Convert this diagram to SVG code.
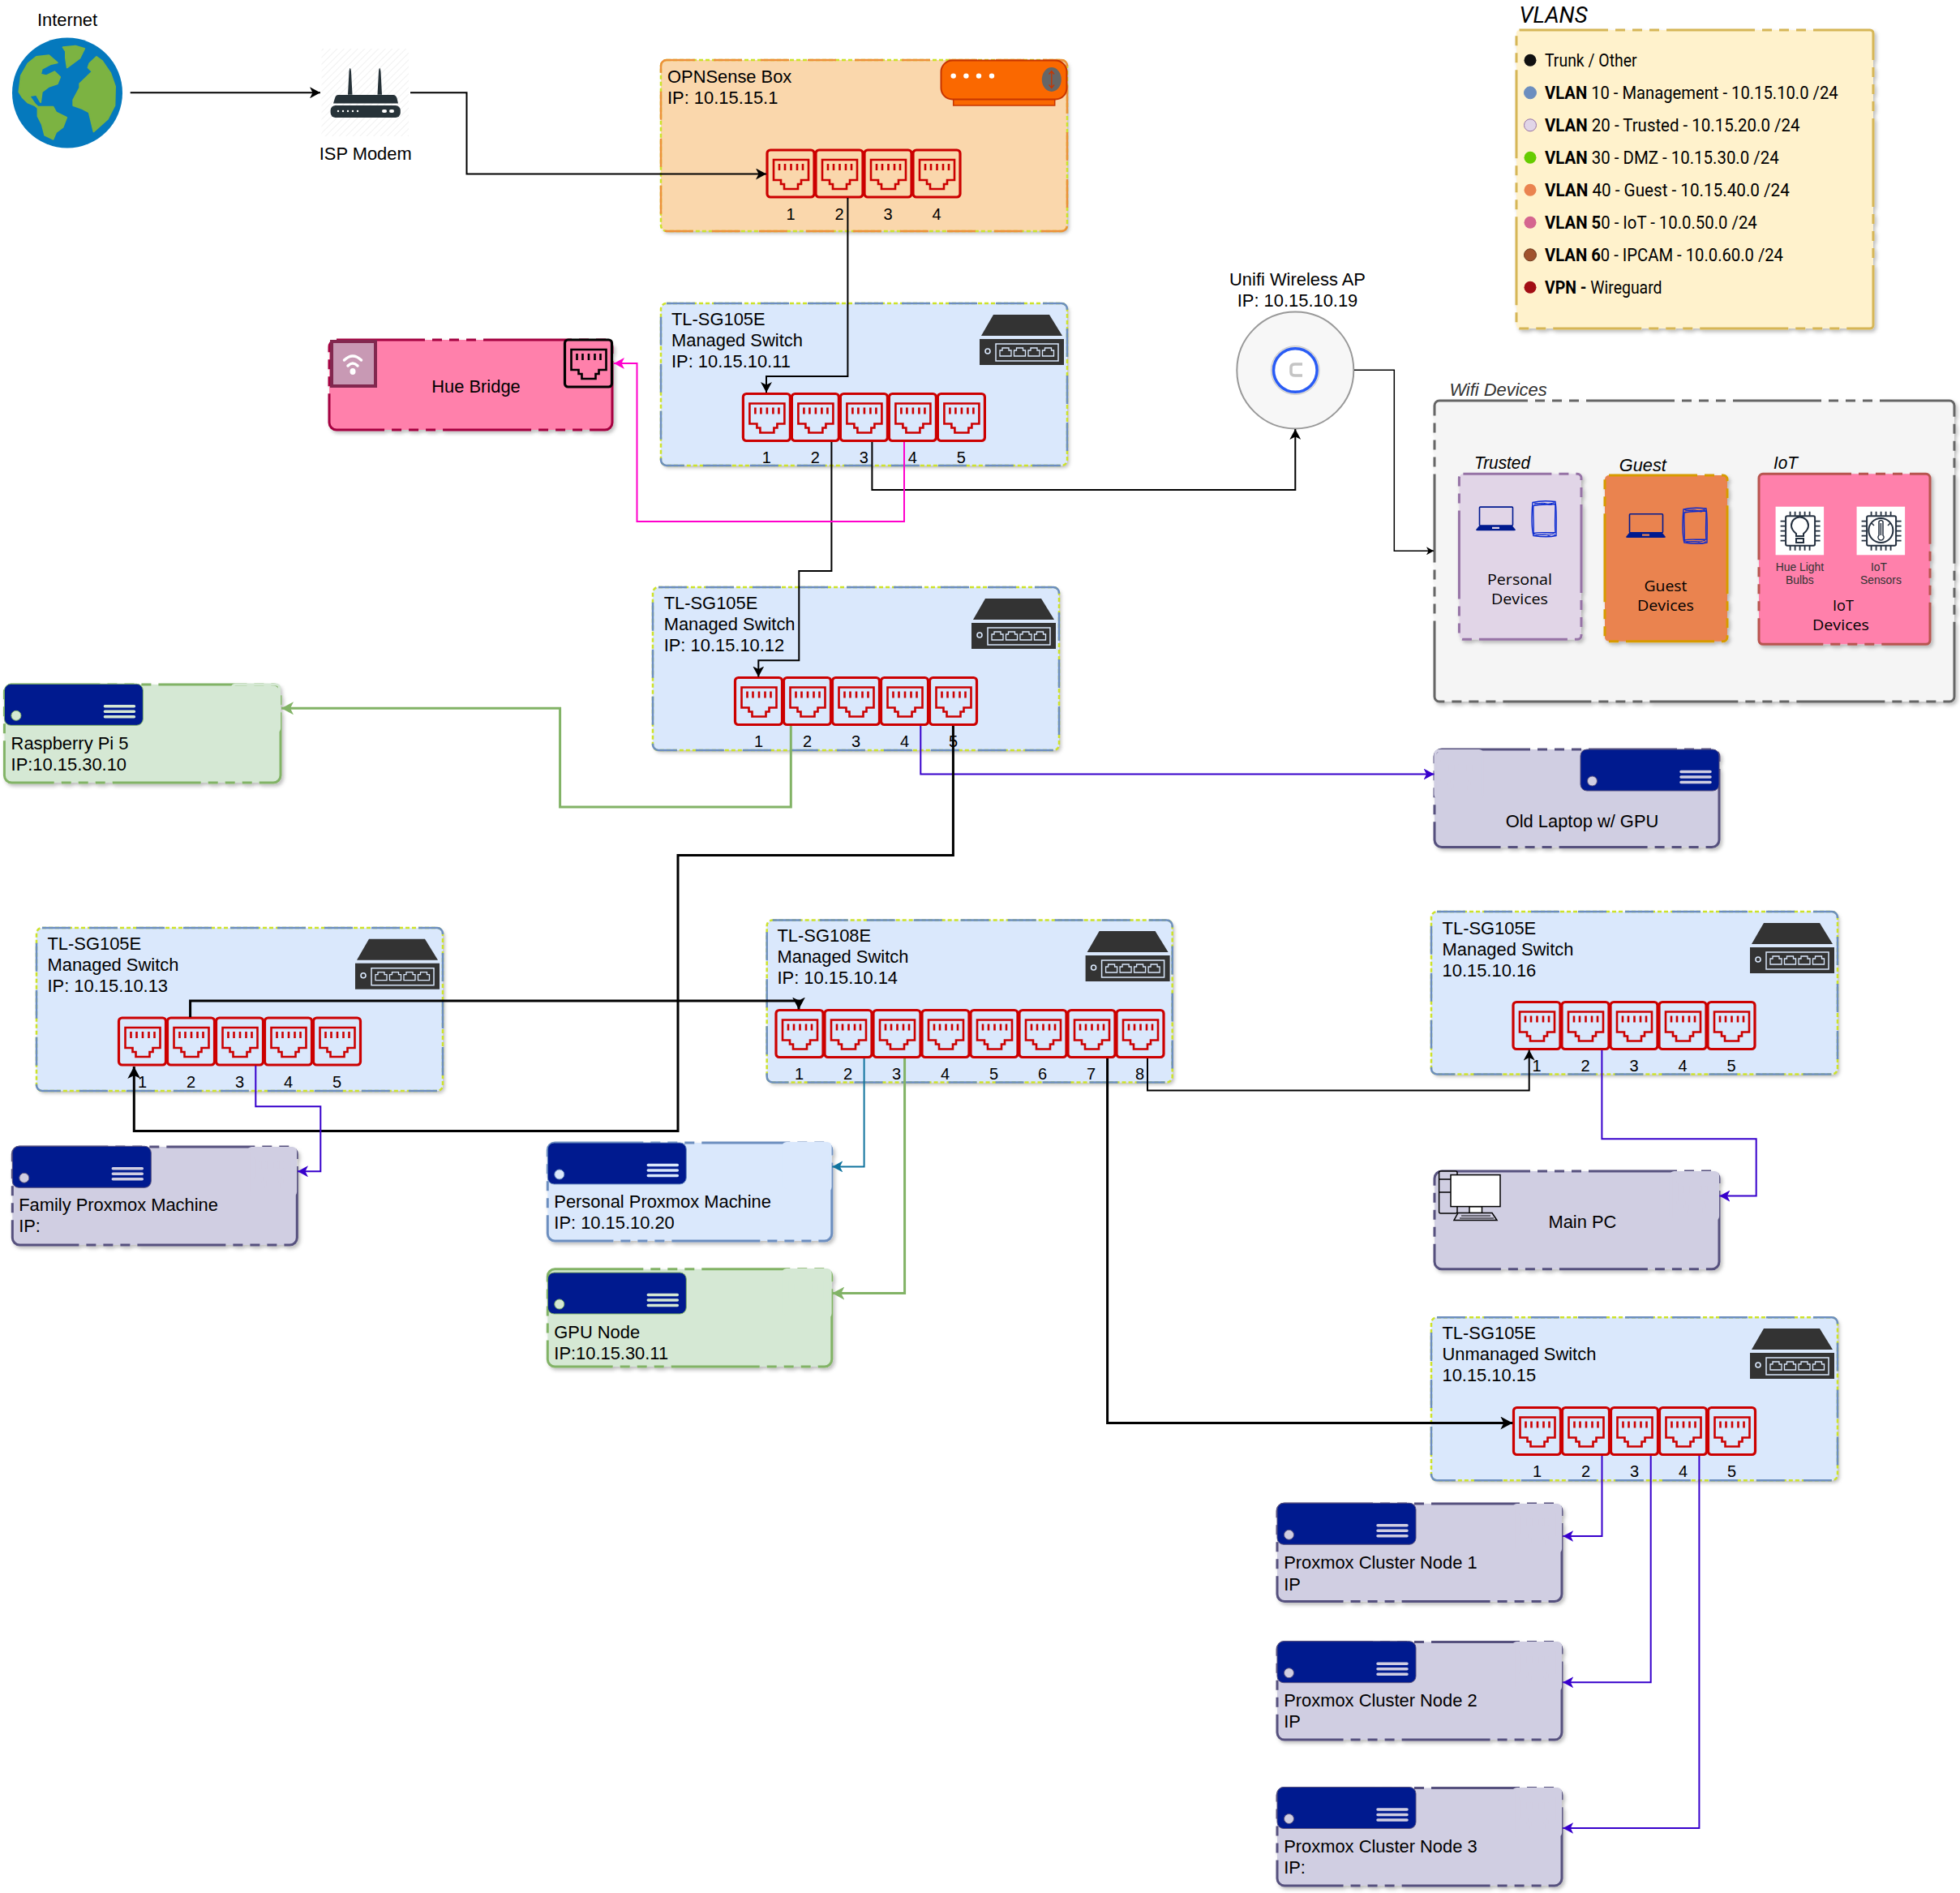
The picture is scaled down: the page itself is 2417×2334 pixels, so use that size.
<svg xmlns="http://www.w3.org/2000/svg" width="2417" height="2334" viewBox="0 0 2417 2334">
<style>
text{font-family:"Liberation Sans",Arial,sans-serif;font-size:21.9px;fill:#000}
.m{text-anchor:middle}
.n{font-size:20px;text-anchor:middle}
.i{font-style:italic}
.v{font-family:Roboto,"Liberation Sans",sans-serif}
.h{font-family:"Open Sans","Liberation Sans",sans-serif;font-size:19px;font-weight:400;text-anchor:middle}
.s{font-size:13.9px;text-anchor:middle;fill:#333}
.box{stroke-width:3;stroke-dasharray:109 9 12 9 12 9 12 9;filter:url(#sh)}
.y{fill:none;stroke:#cde22b;stroke-width:2.500;stroke-dasharray:5 3}
.d{fill:none;stroke-width:2.500;stroke-dasharray:35 23}
.c{fill:none;stroke-linejoin:miter}
.k{stroke:#000;stroke-width:2;marker-end:url(#ak)}
.K{stroke:#000;stroke-width:3;marker-end:url(#aK)}
.t{stroke:#000;stroke-width:1.500;marker-end:url(#at)}
.p{stroke:#3700cc;stroke-width:2;marker-end:url(#ap)}
.g{stroke:#82b366;stroke-width:3;marker-end:url(#ag)}
.e{stroke:#10739e;stroke-width:2;marker-end:url(#ae)}
.f{stroke:#ff00cc;stroke-width:2;marker-end:url(#af)}
.bl{fill:#dae8fc;stroke:#6c8ebf;color:#dae8fc}
.pu{fill:#d0cee2;stroke:#56517e;color:#d0cee2}
.gr{fill:#d5e8d4;stroke:#82b366;color:#d5e8d4}
</style>
<defs>
<filter id="sh" x="-5%" y="-5%" width="112%" height="112%"><feDropShadow dx="2.5" dy="3" stdDeviation="2" flood-color="#000" flood-opacity=".25"/></filter>
<pattern id="hatch" width="6" height="6" patternUnits="userSpaceOnUse" patternTransform="rotate(45)"><rect width="6" height="6" fill="#fff"/><rect width="1" height="6" fill="#f1f1f1"/></pattern>
<marker id="ak" markerUnits="userSpaceOnUse" markerWidth="14" markerHeight="14" refX="13" refY="7" orient="auto"><path d="M0,0L13,7L0,14L3.5,7Z" fill="#000"/></marker>
<marker id="at" markerUnits="userSpaceOnUse" markerWidth="10" markerHeight="10" refX="9" refY="5" orient="auto"><path d="M0,0L9,5L0,10L2.500,5Z" fill="#000"/></marker>
<marker id="aK" markerUnits="userSpaceOnUse" markerWidth="16" markerHeight="16" refX="15" refY="8" orient="auto"><path d="M0,0L15,8L0,16L4,8Z" fill="#000"/></marker>
<marker id="ap" markerUnits="userSpaceOnUse" markerWidth="14" markerHeight="14" refX="13" refY="7" orient="auto"><path d="M0,0L13,7L0,14L3.5,7Z" fill="#3700cc"/></marker>
<marker id="ag" markerUnits="userSpaceOnUse" markerWidth="16" markerHeight="16" refX="15" refY="8" orient="auto"><path d="M0,0L15,8L0,16L4,8Z" fill="#82b366"/></marker>
<marker id="ae" markerUnits="userSpaceOnUse" markerWidth="14" markerHeight="14" refX="13" refY="7" orient="auto"><path d="M0,0L13,7L0,14L3.5,7Z" fill="#10739e"/></marker>
<marker id="af" markerUnits="userSpaceOnUse" markerWidth="14" markerHeight="14" refX="13" refY="7" orient="auto"><path d="M0,0L13,7L0,14L3.5,7Z" fill="#ff00cc"/></marker>
<g id="port" fill="none" stroke="currentColor">
<rect x="0" y="0" width="58" height="58" rx="4" stroke-width="3.2"/>
<path d="M8,12H51V37H42V42H38V48H21V42H17V37H8Z" stroke-width="2.6"/>
<path d="M15,17v8M22,17v8M29.5,17v8M37,17v8M44,17v8" stroke-width="2.6"/>
</g>
<g id="sw">
<path d="M17,0H86L102,26H2Z" fill="#333"/>
<rect y="30" width="104" height="32" fill="#333"/>
<circle cx="10" cy="45" r="3" fill="none" stroke="#dae8fc" stroke-width="1.6"/>
<rect x="20" y="36" width="77" height="21" fill="none" stroke="#dae8fc" stroke-width="1.5"/>
<path d="M25,51V44H28V41H36V44H39V51ZM42.500,51V44H45.500V41H53.500V44H56.500V51ZM60,51V44H63V41H71V44H74V51ZM77.500,51V44H80.500V41H88.500V44H91.500V51Z" fill="none" stroke="#dae8fc" stroke-width="1.3"/>
</g>
<g id="server">
<rect width="171" height="51" rx="8" fill="#001a8f"/>
<circle cx="14.500" cy="39" r="6" fill="currentColor"/>
<path d="M124,27.500H160M124,34H160M124,40.500H160" stroke="currentColor" stroke-width="3.500" stroke-linecap="round" fill="none"/>
</g>
<g id="laptop">
<rect x="4.500" y="0.800" width="41" height="23" rx="1" fill="none" stroke="#001a8f" stroke-width="1.600"/>
<path d="M4,24H45L49,29Q49,30 47,30H2Q0,30 0,29Z" fill="#001a8f"/>
<rect x="20" y="25.500" width="9" height="2.200" fill="currentColor"/>
</g>
<g id="phone" fill="none" stroke="#0a2ad0" stroke-width="1.400">
<path d="M2,3C10,1 22,1 30,2C32,14 31,32 31,44C22,46 10,45 3,44C0,32 1,14 2,3Z"/>
<path d="M3,7C12,5 21,6 30,5C30,18 29,30 30,40C21,41 11,39 3,41C4,30 2,18 3,7Z"/>
<path d="M3,3C9,6 14,2 20,5S27,3 29,5M4,5C10,3 18,7 29,3M3,42C10,44 16,41 22,44S27,42 30,43M5,44C12,41 20,45 29,41" stroke-width="1"/>
</g>
<g id="chip">
<rect width="59.500" height="59.600" fill="#fff"/>
<g fill="none" stroke="#232f3e">
<rect x="12.500" y="11.500" width="36" height="36.500" rx="2" stroke-width="2"/>
<path d="M18,6v5M24,6v5M30,6v5M36,6v5M42,6v5M18,48v6M24,48v6M30,48v6M36,48v6M42,48v6M6,18h6M6,24h6M6,30h6M6,36h6M6,42h6M49,18h6M49,24h6M49,30h6M49,36h6M49,42h6" stroke-width="1.800"/>
</g>
</g>
</defs>
<rect width="2417" height="2334" fill="#fff"/>

<g id="internet">
<text class="m" x="83" y="31.700">Internet</text>
<circle cx="83" cy="114.500" r="68" fill="#0579bd"/>
<g fill="#7cb342" stroke="#7cb342" stroke-width="2" stroke-linejoin="round">
<path d="M23.400,113.300L25.900,93.300L34.500,78.300L44.800,70L60.300,68.300L70.700,77.300L62,79.300L51.700,85L50,91.700L56.900,93.300L67.200,88.300L74.100,95L70.700,103.300L60.300,106.700L51.700,113.300L50,126L44.800,116.700L36.200,118.300L43.100,128.300L46.600,131.700L34.500,126.700L27.600,120Z"/>
<path d="M77.600,58.300L93.100,56.700L104.100,60L98.300,71.700L82.800,83.300L81,71.700L81,63.300Z"/>
<path d="M37.900,125L46.600,131.700L65.500,131.700L69,138.300L82.100,145L77.600,156.700L69,163.300L65.500,171.700L55.200,166.700L51.700,153.300L46.600,143.300L46.600,133.300Z"/>
<path d="M119,70L125.900,75L136.200,90L142,106.700L141.400,130L132.800,146.700L115.500,162.300L109.700,138.300L101.700,134L90.300,130L90.300,123.300L98.300,108.300L98.300,103.300L103.400,98.300L113.800,88.300L108.600,83.300L110.300,78.300Z"/>
</g>
</g>

<g id="isp-modem">
<rect x="396.500" y="60" width="107.500" height="108" fill="url(#hatch)"/>
<path d="M429,116.700L430.500,88Q431.700,80 433,88L434.500,116.700ZM465.500,116.700L467,88Q468.200,80 469.500,88L471,116.700Z" fill="#263238"/>
<path d="M417,117H485Q488,117 489.500,121L491,127.500H411L413,121Q414,117 417,117Z" fill="#263238"/>
<rect x="407.600" y="130" width="86.200" height="15" rx="6" fill="#263238"/>
<g fill="#fff"><circle cx="417" cy="137" r="1.200"/><circle cx="423" cy="137" r="1.200"/><circle cx="429" cy="137" r="1.200"/><circle cx="435" cy="137" r="1.200"/><circle cx="441" cy="137" r="1.200"/><rect x="471" y="135" width="6" height="4" rx="2"/><rect x="480" y="135" width="6" height="4" rx="2"/></g>
<text class="m" x="450.700" y="196.700">ISP Modem</text>
</g>

<g id="opnsense" color="#cc0000">
<rect class="box" style="stroke-dasharray:none;stroke:none" x="815" y="74" width="501" height="211" rx="7" fill="#fad7ac"/>
<rect class="y" x="815" y="74" width="501" height="211" rx="7"/>
<rect class="d" x="815" y="74" width="501" height="211" rx="7" stroke="#ec9038"/>
<rect x="1175.700" y="120" width="125" height="10" fill="#fa6800" stroke="#c73500" stroke-width="1.500"/>
<rect x="1160.500" y="74.500" width="155" height="48" rx="14" fill="#fa6800" stroke="#c73500" stroke-width="2"/>
<g fill="#fff"><circle cx="1175.700" cy="93.600" r="3.200"/><circle cx="1191.400" cy="93.600" r="3.200"/><circle cx="1207" cy="93.600" r="3.200"/><circle cx="1223" cy="93.600" r="3.200"/></g>
<ellipse cx="1296.800" cy="98" rx="12" ry="15" fill="#666"/>
<path d="M1296.800,88V108M1293.500,91.500L1296.800,87.500L1300,91.500M1293.500,104.500L1296.800,108.500L1300,104.500" fill="none" stroke="#c73500" stroke-width="1.300"/>
<text x="823" y="102">OPNSense Box</text><text x="823" y="128">IP: 10.15.15.1</text>
<use href="#port" x="946" y="185"/><use href="#port" x="1006" y="185"/><use href="#port" x="1066" y="185"/><use href="#port" x="1126" y="185"/>
<text class="n" x="975" y="271">1</text><text class="n" x="1035" y="271">2</text><text class="n" x="1095" y="271">3</text><text class="n" x="1155" y="271">4</text>
</g>

<g id="switch-11" color="#cc0000">
<rect class="box" style="stroke-dasharray:none;stroke:none" x="815" y="374" width="501" height="200" rx="7" fill="#dae8fc"/>
<rect class="y" x="815" y="374" width="501" height="200" rx="7"/>
<rect class="d" x="815" y="374" width="501" height="200" rx="7" stroke="#6c8ebf"/>
<use href="#sw" x="1208" y="388"/>
<text x="828" y="401">TL-SG105E</text><text x="828" y="427">Managed Switch</text><text x="828" y="453">IP: 10.15.10.11</text>
<use href="#port" x="916.400" y="485.500"/><use href="#port" x="976.400" y="485.500"/><use href="#port" x="1036.400" y="485.500"/><use href="#port" x="1096.400" y="485.500"/><use href="#port" x="1156.400" y="485.500"/>
<text class="n" x="945.400" y="571">1</text><text class="n" x="1005.400" y="571">2</text><text class="n" x="1065.400" y="571">3</text><text class="n" x="1125.400" y="571">4</text><text class="n" x="1185.400" y="571">5</text>
</g>

<g id="hue-bridge" color="#000">
<rect class="box" x="406" y="419" width="349" height="111" rx="9" fill="#ff80ab" stroke="#a50040"/>
<rect x="409" y="421" width="54" height="55" fill="#c899b4" stroke="#82284f" stroke-width="4"/>
<path d="M424.500,444Q435,434 445.500,444M429,451Q435,445 441,451" fill="none" stroke="#fff" stroke-width="3.500" stroke-linecap="round"/>
<ellipse cx="435" cy="458" rx="3.500" ry="4" fill="#fff"/>
<rect x="697" y="419" width="57" height="58" rx="4" fill="#ff80ab"/>
<use href="#port" x="696.500" y="419"/>
<text class="m" x="587" y="484">Hue Bridge</text>
</g>

<g id="vlans">
<text class="i v" x="1873.500" y="28.300" style="font-size:27px" textLength="84" lengthAdjust="spacingAndGlyphs">VLANS</text>
<rect class="box" x="1870" y="37" width="440" height="368" rx="4" fill="#fff2cc" stroke="#d6b656"/>
<circle cx="1887" cy="74.300" r="7.500" fill="#111"/>
<circle cx="1887" cy="114.300" r="7.500" fill="#6c8ebf" stroke="#6c8ebf"/>
<circle cx="1887" cy="154.300" r="7.500" fill="#e1d5e7" stroke="#9673a6"/>
<circle cx="1887" cy="194.300" r="7.500" fill="#66cc00"/>
<circle cx="1887" cy="234.300" r="7.500" fill="#ea834f"/>
<circle cx="1887" cy="274.300" r="7.500" fill="#d5658f"/>
<circle cx="1887" cy="314.300" r="7.500" fill="#a0522d" stroke="#6d3a1f"/>
<circle cx="1887" cy="354.300" r="7.500" fill="#a20e14"/>
<text class="v" x="1905" y="81.700" textLength="113.600" lengthAdjust="spacingAndGlyphs">Trunk / Other</text>
<text class="v" x="1905" y="121.700" textLength="361.600" lengthAdjust="spacingAndGlyphs"><tspan font-weight="700">VLAN </tspan>10 - Management - 10.15.10.0 /24</text>
<text class="v" x="1905" y="161.700" textLength="314.400" lengthAdjust="spacingAndGlyphs"><tspan font-weight="700">VLAN </tspan>20 - Trusted - 10.15.20.0 /24</text>
<text class="v" x="1905" y="201.700" textLength="288.700" lengthAdjust="spacingAndGlyphs"><tspan font-weight="700">VLAN </tspan>30 - DMZ - 10.15.30.0 /24</text>
<text class="v" x="1905" y="241.700" textLength="301.800" lengthAdjust="spacingAndGlyphs"><tspan font-weight="700">VLAN </tspan>40 - Guest - 10.15.40.0 /24</text>
<text class="v" x="1905" y="281.700" textLength="261.800" lengthAdjust="spacingAndGlyphs"><tspan font-weight="700">VLAN 5</tspan>0 - IoT - 10.0.50.0 /24</text>
<text class="v" x="1905" y="321.700" textLength="294" lengthAdjust="spacingAndGlyphs"><tspan font-weight="700">VLAN 6</tspan>0 - IPCAM - 10.0.60.0 /24</text>
<text class="v" x="1905" y="361.700" textLength="144.600" lengthAdjust="spacingAndGlyphs"><tspan font-weight="700">VPN - </tspan>Wireguard</text>
</g>

<g id="unifi-ap">
<text class="m" x="1600" y="351.700">Unifi Wireless AP</text><text class="m" x="1600" y="377.700">IP: 10.15.10.19</text>
<circle cx="1597.300" cy="456.500" r="72" fill="#f7f7f7" stroke="#999" stroke-width="2"/>
<circle cx="1597.300" cy="456.500" r="30" fill="#ddd" stroke="#ccc" stroke-width="1"/>
<circle cx="1597.300" cy="456.500" r="26.800" fill="#fff" stroke="#2a5cf5" stroke-width="3.500"/>
<path d="M1606,449H1597Q1592,449 1592,453V459Q1592,463 1597,463H1606" fill="none" stroke="#c4c4c4" stroke-width="3.500"/>
</g>

<g id="wifi-devices">
<text class="i" x="1787.400" y="487.700" style="fill:#333">Wifi Devices</text>
<rect class="box" x="1769" y="494" width="641" height="371" rx="6" fill="#f5f5f5" stroke="#666"/>
</g>
<g id="trusted" color="#e1d5e7">
<text class="i" x="1818" y="578.300" textLength="69" lengthAdjust="spacingAndGlyphs">Trusted</text>
<rect class="box" x="1799.400" y="584.300" width="150.600" height="204" rx="5" fill="#e1d5e7" stroke="#9673a6"/>
<use href="#laptop" x="1820" y="624.300"/><use href="#phone" x="1888" y="616.500"/>
<text class="h" x="1874" y="721" textLength="80" lengthAdjust="spacingAndGlyphs">Personal</text><text class="h" x="1874" y="745" textLength="70" lengthAdjust="spacingAndGlyphs">Devices</text>
</g>
<g id="guest" color="#ea834f">
<text class="i" x="1996.800" y="581" textLength="58" lengthAdjust="spacingAndGlyphs">Guest</text>
<rect class="box" x="1979" y="586" width="151" height="204.700" rx="5" fill="#ea834f" stroke="#d79b00"/>
<use href="#laptop" x="2005" y="633"/><use href="#phone" x="2074" y="625"/>
<text class="h" x="2054" y="729" textLength="53" lengthAdjust="spacingAndGlyphs">Guest</text><text class="h" x="2054" y="753" textLength="70" lengthAdjust="spacingAndGlyphs">Devices</text>
</g>
<g id="iot">
<text class="i" x="2187" y="578.300" textLength="30" lengthAdjust="spacingAndGlyphs">IoT</text>
<rect class="box" x="2169" y="584.300" width="211" height="210" rx="5" fill="#ff80ab" stroke="#b85450"/>
<use href="#chip" x="2189.600" y="624.700"/><use href="#chip" x="2289.600" y="624.700"/>
<g fill="none" stroke="#232f3e" stroke-width="2">
<path d="M2215,661V658Q2209,653 2209,648A10,10 0 1 1 2230,648Q2230,653 2224,658V661ZM2215,664H2224V669H2215Z"/>
<circle cx="2319.400" cy="654" r="15"/>
<path d="M2317,643Q2319.500,640 2322,643V660A3.500,3.500 0 1 1 2317,660Z" stroke-width="1.500"/>
<path d="M2319.400,645V660M2308,645L2311,648M2331,645L2328,648" stroke-width="1.500"/>
</g>
<text class="s" x="2219.400" y="704">Hue Light</text><text class="s" x="2219.400" y="720">Bulbs</text>
<text class="s" x="2317" y="704">IoT</text><text class="s" x="2319.400" y="720">Sensors</text>
<text class="h" x="2273" y="753" textLength="26" lengthAdjust="spacingAndGlyphs">IoT</text><text class="h" x="2270" y="777" textLength="70" lengthAdjust="spacingAndGlyphs">Devices</text>
</g>

<g id="switch-12" color="#cc0000">
<rect class="box" style="stroke-dasharray:none;stroke:none" x="805" y="724" width="501" height="201" rx="7" fill="#dae8fc"/>
<rect class="y" x="805" y="724" width="501" height="201" rx="7"/>
<rect class="d" x="805" y="724" width="501" height="201" rx="7" stroke="#6c8ebf"/>
<use href="#sw" x="1198" y="738"/>
<text x="818.700" y="750.700">TL-SG105E</text><text x="818.700" y="776.700">Managed Switch</text><text x="818.700" y="802.700">IP: 10.15.10.12</text>
<use href="#port" x="906.500" y="835.500"/><use href="#port" x="966.500" y="835.500"/><use href="#port" x="1026.500" y="835.500"/><use href="#port" x="1086.500" y="835.500"/><use href="#port" x="1146.500" y="835.500"/>
<text class="n" x="935.500" y="920.700">1</text><text class="n" x="995.500" y="920.700">2</text><text class="n" x="1055.500" y="920.700">3</text><text class="n" x="1115.500" y="920.700">4</text><text class="n" x="1175.500" y="920.700">5</text>
</g>

<g id="raspberry-pi" class="gr" color="#cc0000">
<rect class="box" x="5.400" y="844" width="340.600" height="121" rx="9"/>
<use href="#server" x="5.400" y="843.300" style="color:#d5e8d4"/>
<use href="#port" x="286.500" y="844"/>
<text x="13.600" y="924" stroke="none">Raspberry Pi 5</text><text x="13.600" y="950" stroke="none">IP:10.15.30.10</text>
</g>

<g id="old-laptop" class="pu" color="#cc0000">
<rect class="box" x="1769" y="924" width="351" height="120.500" rx="9"/>
<use href="#server" x="1949" y="924" style="color:#d0cee2"/>
<use href="#port" x="1770" y="925.500"/>
<text class="m" x="1951" y="1019.500" stroke="none">Old Laptop w/ GPU</text>
</g>

<g id="switch-13" color="#cc0000">
<rect class="box" style="stroke-dasharray:none;stroke:none" x="45" y="1144" width="501" height="201" rx="7" fill="#dae8fc"/>
<rect class="y" x="45" y="1144" width="501" height="201" rx="7"/>
<rect class="d" x="45" y="1144" width="501" height="201" rx="7" stroke="#6c8ebf"/>
<use href="#sw" x="438" y="1157.700"/>
<text x="58.500" y="1170.700">TL-SG105E</text><text x="58.500" y="1196.700">Managed Switch</text><text x="58.500" y="1222.700">IP: 10.15.10.13</text>
<use href="#port" x="146.500" y="1255"/><use href="#port" x="206.500" y="1255"/><use href="#port" x="266.500" y="1255"/><use href="#port" x="326.500" y="1255"/><use href="#port" x="386.500" y="1255"/>
<text class="n" x="175.500" y="1341">1</text><text class="n" x="235.500" y="1341">2</text><text class="n" x="295.500" y="1341">3</text><text class="n" x="355.500" y="1341">4</text><text class="n" x="415.500" y="1341">5</text>
</g>

<g id="switch-14" color="#cc0000">
<rect class="box" style="stroke-dasharray:none;stroke:none" x="945.700" y="1134.500" width="500" height="200" rx="7" fill="#dae8fc"/>
<rect class="y" x="945.700" y="1134.500" width="500" height="200" rx="7"/>
<rect class="d" x="945.700" y="1134.500" width="500" height="200" rx="7" stroke="#6c8ebf"/>
<use href="#sw" x="1338.600" y="1148"/>
<text x="958.500" y="1161">TL-SG108E</text><text x="958.500" y="1187.200">Managed Switch</text><text x="958.500" y="1213.400">IP: 10.15.10.14</text>
<use href="#port" x="957" y="1245.500"/><use href="#port" x="1017" y="1245.500"/><use href="#port" x="1077" y="1245.500"/><use href="#port" x="1137" y="1245.500"/><use href="#port" x="1197" y="1245.500"/><use href="#port" x="1257" y="1245.500"/><use href="#port" x="1317" y="1245.500"/><use href="#port" x="1377" y="1245.500"/>
<text class="n" x="985.500" y="1331">1</text><text class="n" x="1045.500" y="1331">2</text><text class="n" x="1105.500" y="1331">3</text><text class="n" x="1165.500" y="1331">4</text><text class="n" x="1225.500" y="1331">5</text><text class="n" x="1285.500" y="1331">6</text><text class="n" x="1345.500" y="1331">7</text><text class="n" x="1405.500" y="1331">8</text>
</g>

<g id="switch-16" color="#cc0000">
<rect class="box" style="stroke-dasharray:none;stroke:none" x="1765" y="1124" width="501" height="200.500" rx="7" fill="#dae8fc"/>
<rect class="y" x="1765" y="1124" width="501" height="200.500" rx="7"/>
<rect class="d" x="1765" y="1124" width="501" height="200.500" rx="7" stroke="#6c8ebf"/>
<use href="#sw" x="2158" y="1138"/>
<text x="1778.600" y="1151.500">TL-SG105E</text><text x="1778.600" y="1177.500">Managed Switch</text><text x="1778.600" y="1203.500">10.15.10.16</text>
<use href="#port" x="1866" y="1235.500"/><use href="#port" x="1926" y="1235.500"/><use href="#port" x="1986" y="1235.500"/><use href="#port" x="2046" y="1235.500"/><use href="#port" x="2106" y="1235.500"/>
<text class="n" x="1895" y="1320.600">1</text><text class="n" x="1955" y="1320.600">2</text><text class="n" x="2015" y="1320.600">3</text><text class="n" x="2075" y="1320.600">4</text><text class="n" x="2135" y="1320.600">5</text>
</g>

<g id="family-proxmox" class="pu" color="#cc0000">
<rect class="box" x="15.300" y="1414" width="351" height="121" rx="9"/>
<use href="#server" x="15.300" y="1413.300" style="color:#d0cee2"/>
<use href="#port" x="306.500" y="1415.500"/>
<text x="23.200" y="1493.300" stroke="none">Family Proxmox Machine</text><text x="23.200" y="1519.300" stroke="none">IP:</text>
</g>

<g id="personal-proxmox" class="bl" color="#cc0000">
<rect class="box" x="675.300" y="1409" width="350.500" height="121" rx="9"/>
<use href="#server" x="675.300" y="1409" style="color:#dae8fc"/>
<use href="#port" x="966" y="1409.500"/>
<text x="683.300" y="1489.300" stroke="none">Personal Proxmox Machine</text><text x="683.300" y="1515.300" stroke="none">IP: 10.15.10.20</text>
</g>

<g id="gpu-node" class="gr" color="#cc0000">
<rect class="box" x="675.300" y="1564.700" width="350.500" height="120.300" rx="9"/>
<use href="#server" x="675.300" y="1569" style="color:#d5e8d4"/>
<use href="#port" x="966" y="1565.500"/>
<text x="683.300" y="1650" stroke="none">GPU Node</text><text x="683.300" y="1676" stroke="none">IP:10.15.30.11</text>
</g>

<g id="main-pc" class="pu" color="#cc0000">
<rect class="box" x="1769" y="1444" width="351" height="120.800" rx="9"/>
<g stroke="#000" stroke-width="1.500" fill="#fff">
<rect x="1774.600" y="1444" width="22.400" height="52" rx="2" fill="#d0cee2"/>
<path d="M1774.600,1454H1789M1774.600,1470H1789" fill="none"/>
<rect x="1812" y="1487.600" width="15.500" height="8"/>
<path d="M1798,1495.500H1840L1846,1504.500H1793Z" fill="#d0cee2"/>
<path d="M1802,1499H1838M1800,1502H1842" fill="none" stroke-width="1"/>
<rect x="1789" y="1448.600" width="61" height="39"/>
</g>
<use href="#port" x="2060.500" y="1445.500"/>
<text class="m" x="1951.400" y="1513.600" stroke="none">Main PC</text>
</g>

<g id="switch-15" color="#cc0000">
<rect class="box" style="stroke-dasharray:none;stroke:none" x="1765" y="1624.300" width="501" height="201" rx="7" fill="#dae8fc"/>
<rect class="y" x="1765" y="1624.300" width="501" height="201" rx="7"/>
<rect class="d" x="1765" y="1624.300" width="501" height="201" rx="7" stroke="#6c8ebf"/>
<use href="#sw" x="2158" y="1638"/>
<text x="1778.500" y="1650.600">TL-SG105E</text><text x="1778.500" y="1676.800">Unmanaged Switch</text><text x="1778.500" y="1703">10.15.10.15</text>
<use href="#port" x="1866.500" y="1735.500"/><use href="#port" x="1926.500" y="1735.500"/><use href="#port" x="1986.500" y="1735.500"/><use href="#port" x="2046.500" y="1735.500"/><use href="#port" x="2106.500" y="1735.500"/>
<text class="n" x="1895.500" y="1821">1</text><text class="n" x="1955.500" y="1821">2</text><text class="n" x="2015.500" y="1821">3</text><text class="n" x="2075.500" y="1821">4</text><text class="n" x="2135.500" y="1821">5</text>
</g>

<g id="cluster-node-1" class="pu" color="#cc0000">
<rect class="box" x="1575" y="1854" width="351" height="120.500" rx="9"/>
<use href="#server" x="1575" y="1853.300" style="color:#d0cee2"/>
<use href="#port" x="1866.500" y="1855.600"/>
<text x="1583.200" y="1934.300" stroke="none">Proxmox Cluster Node 1</text><text x="1583.200" y="1960.500" stroke="none">IP</text>
</g>
<g id="cluster-node-2" class="pu" color="#cc0000">
<rect class="box" x="1575" y="2024.600" width="351" height="120.500" rx="9"/>
<use href="#server" x="1575" y="2023.700" style="color:#d0cee2"/>
<use href="#port" x="1866.500" y="2025.500"/>
<text x="1583.200" y="2104.200" stroke="none">Proxmox Cluster Node 2</text><text x="1583.200" y="2130.400" stroke="none">IP</text>
</g>
<g id="cluster-node-3" class="pu" color="#cc0000">
<rect class="box" x="1575" y="2204.400" width="351" height="120.500" rx="9"/>
<use href="#server" x="1575" y="2203.500" style="color:#d0cee2"/>
<use href="#port" x="1866.500" y="2205.500"/>
<text x="1583.200" y="2284" stroke="none">Proxmox Cluster Node 3</text><text x="1583.200" y="2310" stroke="none">IP:</text>
</g>

<g id="connectors" class="c">
<path class="k" d="M160.700,114.300H395"/>
<path class="k" d="M506,114.300H575.500V214.500H945"/>
<path class="k" d="M1045.400,244V464H945V484"/>
<path class="k" d="M1025.400,545V704H985.300V814.300H935.300V834.500"/>
<path class="k" d="M1075.400,545V604H1597.300V529"/>
<path class="f" d="M1115,545V643H785.500V448H757"/>
<path class="t" d="M1670,456.300H1719.300V679.300H1768"/>
<path class="g" d="M975.300,895V995H690.600V873.300H347"/>
<path class="p" d="M1135.300,895V954.500H1768.500"/>
<path class="K" d="M1175.400,895V1054.500H836V1394.400H165.300V1315"/>
<path class="K" d="M234.600,1254V1234H985V1244.500"/>
<path class="p" d="M315.300,1314V1364.300H395.300V1444.300H367"/>
<path class="e" d="M1065.600,1305V1438.400H1026.300"/>
<path class="g" d="M1115.600,1305V1594.600H1026.300"/>
<path class="K" d="M1365.600,1305V1754.500H1865.300"/>
<path class="k" d="M1415,1305V1344.500H1885.700V1294.600"/>
<path class="p" d="M1975.400,1295V1404.300H2165.700V1474.600H2120.400"/>
<path class="p" d="M1975.500,1795V1894H1927.300"/>
<path class="p" d="M2035.700,1795V2074.300H1927.300"/>
<path class="p" d="M2095.400,1795V2254H1927.300"/>
</g>
</svg>
